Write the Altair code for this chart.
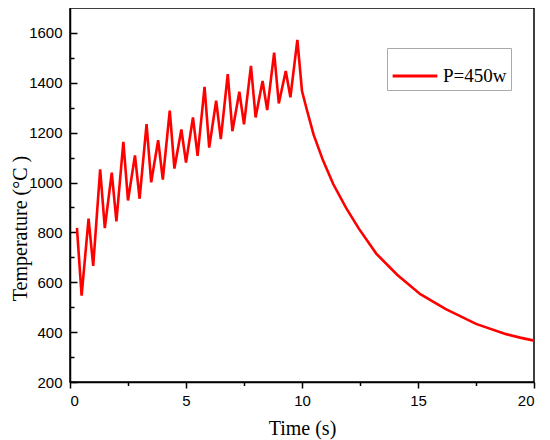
import altair as alt
import pandas as pd

# Heating phase (zig-zag)
heat_t = [0.3, 0.5, 0.8, 1.0, 1.3, 1.5, 1.8, 2.0, 2.3, 2.5, 2.8, 3.0, 3.3, 3.5, 3.8,
          4.0, 4.3, 4.5, 4.8, 5.0, 5.3, 5.5, 5.8, 6.0, 6.3, 6.5, 6.8, 7.0, 7.3, 7.5,
          7.8, 8.0, 8.3, 8.5, 8.8, 9.0, 9.3, 9.5, 9.8]
heat_T = [818, 546, 855, 666, 1053, 817, 1040, 844, 1163, 928, 1109, 935, 1234, 1001, 1170,
          1012, 1288, 1056, 1213, 1080, 1261, 1107, 1384, 1140, 1328, 1174, 1435, 1206, 1364, 1233,
          1468, 1261, 1407, 1291, 1521, 1317, 1447, 1342, 1572]
# Cooling phase
cool_t = [10.0, 10.2, 10.5, 10.9, 11.35, 11.9, 12.45, 13.2, 14.1, 15.1, 16.2, 17.5, 18.8, 19.4, 20.0]
cool_T = [1367, 1295, 1192, 1090, 993, 898, 815, 715, 630, 552, 492, 433, 392, 378, 366]

series_name = "P=450w"
x_major = [0, 5, 10, 15, 20]
x_minor = [2.5, 7.5, 12.5, 17.5]
y_major = [200, 400, 600, 800, 1000, 1200, 1400, 1600]
y_minor = [300, 500, 700, 900, 1100, 1300, 1500]

df = pd.DataFrame({
    "t": heat_t + cool_t,
    "T": heat_T + cool_T,
    "series": [series_name] * (len(heat_t) + len(cool_t)),
})
df["order"] = range(len(df))

xs = alt.Scale(domain=[0, 20], nice=False, zero=False)
ys = alt.Scale(domain=[200, 1700], nice=False, zero=False)

base = alt.Chart(df)

main = base.mark_line(strokeWidth=2.6).encode(
    x=alt.X("t:Q", scale=xs, axis=alt.Axis(
        orient="bottom", values=x_major, format="d", tickSize=6, tickWidth=1.5, tickColor="black",
        domainColor="black", domainWidth=1.5, labelFont="Liberation Sans", labelFontSize=15,
        labelColor="black", labelPadding=5, grid=False, title="Time (s)",
        titleFont="Liberation Serif", titleFontSize=20, titleFontWeight="normal",
        titleColor="black", titleY=52, titleBaseline="alphabetic")),
    y=alt.Y("T:Q", scale=ys, axis=alt.Axis(
        orient="left", values=y_major, format="d", ticks=False, tickSize=0, domainColor="black",
        domainWidth=1.5, labelFont="Liberation Sans", labelFontSize=15, labelColor="black",
        labelPadding=8, grid=False, title="Temperature (°C )", titleFont="Liberation Serif",
        titleFontSize=20, titleFontWeight="normal", titleColor="black", titleX=-44,
        titleY=220, titleAngle=270, titleAlign="center", titleBaseline="alphabetic")),
    order="order:Q",
    color=alt.Color("series:N", scale=alt.Scale(range=["#ff0000"]), legend=alt.Legend(
        title=None, orient="none", legendX=317, legendY=40, symbolType="stroke",
        symbolSize=2000, symbolStrokeWidth=3, labelFont="Liberation Serif",
        labelFontSize=19, labelColor="black", padding=4, strokeColor="#aaaaaa",
        fillColor="white", labelOffset=4)),
)

ticks_major = base.mark_line(opacity=0).encode(
    x=alt.X("t:Q", scale=xs, axis=alt.Axis(
        orient="bottom", values=x_minor, tickSize=3.5, tickWidth=1.5, tickColor="black",
        labels=False, domain=False, grid=False, title=None)),
    y=alt.Y("T:Q", scale=ys, axis=alt.Axis(
        orient="left", values=y_major, tickSize=7, tickWidth=1.5, tickColor="black",
        offset=-7, labels=False, domain=False, grid=False, title=None)),
    order="order:Q",
)

ticks_minor = base.mark_line(opacity=0).encode(
    x=alt.X("t:Q", scale=xs, axis=None),
    y=alt.Y("T:Q", scale=ys, axis=alt.Axis(
        orient="left", values=y_minor, tickSize=4, tickWidth=1.5, tickColor="black",
        offset=-4, labels=False, domain=False, grid=False, title=None)),
    order="order:Q",
)

chart = alt.layer(main, ticks_major, ticks_minor).resolve_axis(
    x="independent", y="independent"
).properties(
    width=464, height=374,
    autosize=alt.AutoSizeParams(type="none"),
    padding={"left": 62, "top": 0, "right": 8, "bottom": 58},
    background="white",
).configure_view(stroke="black", strokeWidth=1.5)

chart.save("out.html", embed_options={"renderer": "svg", "actions": False})
